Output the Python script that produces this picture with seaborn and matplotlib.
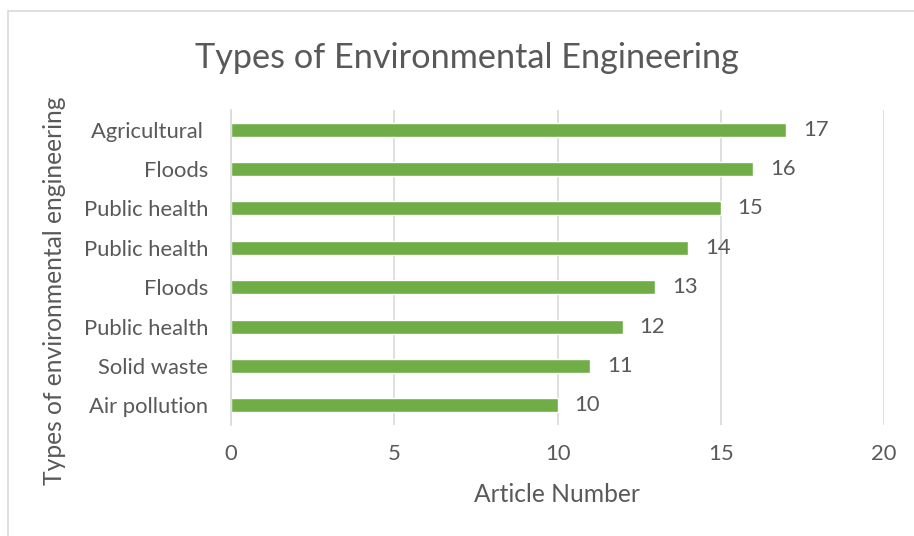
import matplotlib
matplotlib.use("Agg")
import matplotlib.pyplot as plt
import seaborn as sns
import pandas as pd
from matplotlib.patches import Rectangle

categories = ["Agricultural ", "Floods", "Public health", "Public health",
              "Floods", "Public health", "Solid waste", "Air pollution"]
values = [17, 16, 15, 14, 13, 12, 11, 10]
x_ticks = [0, 5, 10, 15, 20]

title = "Types of Environmental Engineering"
x_label = "Article Number"
y_label = "Types of environmental engineering"

sns.set_theme(style="white")
plt.rcParams['font.family'] = ['Lato', 'DejaVu Sans']

TXT = "#595959"
GREEN = "#70AD47"
GRID = "#D9D9D9"

df = pd.DataFrame({"pos": [str(i) for i in range(len(categories))],
                   "label": categories, "value": values})

fig = plt.figure(figsize=(9.14, 5.36), dpi=100)
ax = fig.add_axes([231/914, 1-425/536, (884-231)/914, (425-110)/536])

sns.barplot(data=df, x="value", y="pos", orient="h", color=GREEN,
            saturation=1, width=0.355, ax=ax, order=df["pos"].tolist())

ax.set_xlim(0, 20)
ax.set_ylim(len(categories)-0.5, -0.5)
ax.set_xticks(x_ticks)
ax.set_xticklabels([str(t) for t in x_ticks], color=TXT, fontsize=15.8)
ax.set_yticks(range(len(categories)))
ax.set_yticklabels(categories, color=TXT, fontsize=15.8)
ax.tick_params(axis='both', length=0)
ax.tick_params(axis='x', pad=14)
ax.tick_params(axis='y', pad=16.5)
ax.xaxis.grid(True, color=GRID, linewidth=1.2)
ax.set_axisbelow(True)
for s in ["top", "right", "bottom"]:
    ax.spines[s].set_visible(False)
ax.spines["left"].set_color(GRID)
ax.spines["left"].set_linewidth(1.2)
ax.set_xlabel("")
ax.set_ylabel("")

for i, v in enumerate(values):
    ax.annotate(str(v), xy=(v, i), xytext=(12, 0), textcoords="offset points",
                va="center", ha="left", color=TXT, fontsize=15.8)

fig.text(467/914, 1-58/536, title, ha="center", va="center", color=TXT, fontsize=24.7)
fig.text(557/914, 1-494/536, x_label, ha="center", va="center", color=TXT, fontsize=17.7)
fig.text(55/914, 1-291/536, y_label, ha="center", va="center", rotation=90,
         color=TXT, fontsize=17.7)

fig.patches.append(Rectangle((8/914, -0.05), 1.1, 1-11/536+0.05, transform=fig.transFigure,
                             fill=False, edgecolor=GRID, linewidth=1.2))

fig.savefig("out.png", dpi=100)
